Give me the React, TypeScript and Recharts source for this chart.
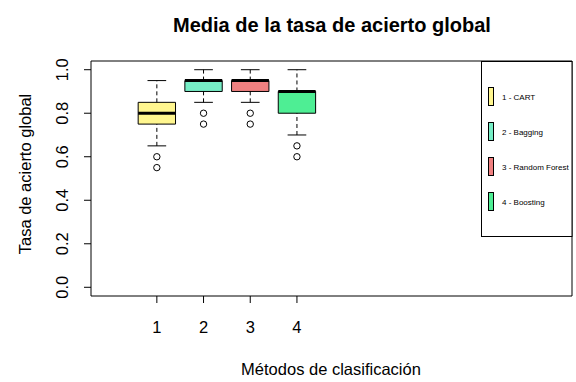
import React from "react"
import {
  ComposedChart,
  XAxis,
  YAxis,
  ReferenceArea,
  ReferenceLine,
  ReferenceDot,
} from "recharts"

// boxplot summaries per classification method
const methods = ["1 - CART", "2 - Bagging", "3 - Random Forest", "4 - Boosting"]
const positions = [1, 2, 3, 4]
const boxColors = ["#FFF68F", "#76EEC6", "#F08080", "#4EEE94"]
const whiskerLow = [0.65, 0.85, 0.85, 0.7]
const q1 = [0.75, 0.9, 0.9, 0.8]
const medians = [0.8, 0.95, 0.95, 0.9]
const q3 = [0.85, 0.95, 0.95, 0.9]
const whiskerHigh = [0.95, 1.0, 1.0, 1.0]
const outliers = [
  [0.6, 0.55],
  [0.8, 0.75],
  [0.8, 0.75],
  [0.65, 0.6],
]
const yTicks = [0, 0.2, 0.4, 0.6, 0.8, 1.0]

const X_DOMAIN: [number, number] = [-0.41, 9.89]
const Y_DOMAIN: [number, number] = [-0.04, 1.04]
const BOX_HALF = 0.4
const CAP_HALF = 0.2

const FONT = "'Liberation Sans', Arial, sans-serif"
const W = 576
const H = 382

const rows = positions.map((p, i) => ({ x: p, median: medians[i] }))

function XTick({ x, y, payload }: any) {
  return (
    <text x={x} y={y + 30} textAnchor="middle" fontSize={16.5} fontFamily={FONT} fill="#000">
      {payload.value}
    </text>
  )
}

function YTick({ x, y, payload }: any) {
  return (
    <text
      transform={`translate(${x - 16.5}, ${y}) rotate(-90)`}
      textAnchor="middle"
      fontSize={16.5}
      fontFamily={FONT}
      fill="#000"
    >
      {Number(payload.value).toFixed(1)}
    </text>
  )
}

export default function App() {
  return (
    <div style={{ position: "absolute", left: 0, top: 0, width: W, height: H, background: "#fff" }}>
      <ComposedChart
        width={W}
        height={H}
        data={rows}
        margin={{ top: 61, right: 4, bottom: 0, left: 0 }}
      >
        <XAxis
          dataKey="x"
          type="number"
          domain={X_DOMAIN}
          allowDataOverflow
          ticks={positions}
          height={86}
          tickSize={7}
          tickMargin={0}
          axisLine={false}
          stroke="#000"
          tick={<XTick />}
        />
        <YAxis
          type="number"
          domain={Y_DOMAIN}
          allowDataOverflow
          ticks={yTicks}
          width={91}
          tickSize={7}
          tickMargin={0}
          axisLine={false}
          stroke="#000"
          tick={<YTick />}
        />

        {/* plot frame */}
        <ReferenceArea
          x1={X_DOMAIN[0]}
          x2={X_DOMAIN[1]}
          y1={Y_DOMAIN[0]}
          y2={Y_DOMAIN[1]}
          fill="none"
          stroke="#000"
          strokeWidth={1}
          ifOverflow="visible"
        />

        {/* dashed whiskers and staples */}
        {positions.map((p, i) => (
          <ReferenceLine
            key={`wl-${p}`}
            segment={[{ x: p, y: whiskerLow[i] }, { x: p, y: q1[i] }]}
            stroke="#000"
            strokeDasharray="4 3"
          />
        ))}
        {positions.map((p, i) => (
          <ReferenceLine
            key={`wh-${p}`}
            segment={[{ x: p, y: q3[i] }, { x: p, y: whiskerHigh[i] }]}
            stroke="#000"
            strokeDasharray="4 3"
          />
        ))}
        {positions.map((p, i) => (
          <ReferenceLine
            key={`cl-${p}`}
            segment={[{ x: p - CAP_HALF, y: whiskerLow[i] }, { x: p + CAP_HALF, y: whiskerLow[i] }]}
            stroke="#000"
          />
        ))}
        {positions.map((p, i) => (
          <ReferenceLine
            key={`ch-${p}`}
            segment={[{ x: p - CAP_HALF, y: whiskerHigh[i] }, { x: p + CAP_HALF, y: whiskerHigh[i] }]}
            stroke="#000"
          />
        ))}

        {/* boxes */}
        {positions.map((p, i) => (
          <ReferenceArea
            key={`box-${p}`}
            x1={p - BOX_HALF}
            x2={p + BOX_HALF}
            y1={q1[i]}
            y2={q3[i]}
            fill={boxColors[i]}
            fillOpacity={1}
            stroke="#000"
            strokeWidth={1}
          />
        ))}

        {/* medians */}
        {positions.map((p, i) => (
          <ReferenceLine
            key={`med-${p}`}
            segment={[{ x: p - BOX_HALF, y: medians[i] }, { x: p + BOX_HALF, y: medians[i] }]}
            stroke="#000"
            strokeWidth={3}
          />
        ))}

        {/* outliers */}
        {positions.flatMap((p, i) =>
          outliers[i].map((v, j) => (
            <ReferenceDot
              key={`out-${p}-${j}`}
              x={p}
              y={v}
              r={3.2}
              fill="#fff"
              stroke="#000"
              strokeWidth={1}
            />
          ))
        )}
      </ComposedChart>

      <svg
        width={W}
        height={H}
        style={{ position: "absolute", left: 0, top: 0, pointerEvents: "none" }}
        fontFamily={FONT}
      >
        <text x={332} y={32} textAnchor="middle" fontSize={20} fontWeight="bold" fill="#000">
          Media de la tasa de acierto global
        </text>
        <text x={331} y={375} textAnchor="middle" fontSize={16.5} fill="#000">
          Métodos de clasificación
        </text>
        <text
          transform="translate(31, 174) rotate(-90)"
          textAnchor="middle"
          fontSize={16.5}
          fill="#000"
        >
          Tasa de acierto global
        </text>

        {/* legend */}
        <rect x={481.5} y={61.5} width={90.5} height={175} fill="#fff" stroke="#000" />
        {methods.map((m, i) => {
          const cy = 96.5 + i * 35
          return (
            <g key={m}>
              <rect x={488.5} y={cy - 9} width={5} height={18} fill={boxColors[i]} stroke="#000" />
              <text x={502} y={cy + 3} fontSize={8} fill="#000">
                {m}
              </text>
            </g>
          )
        })}
      </svg>
    </div>
  )
}
